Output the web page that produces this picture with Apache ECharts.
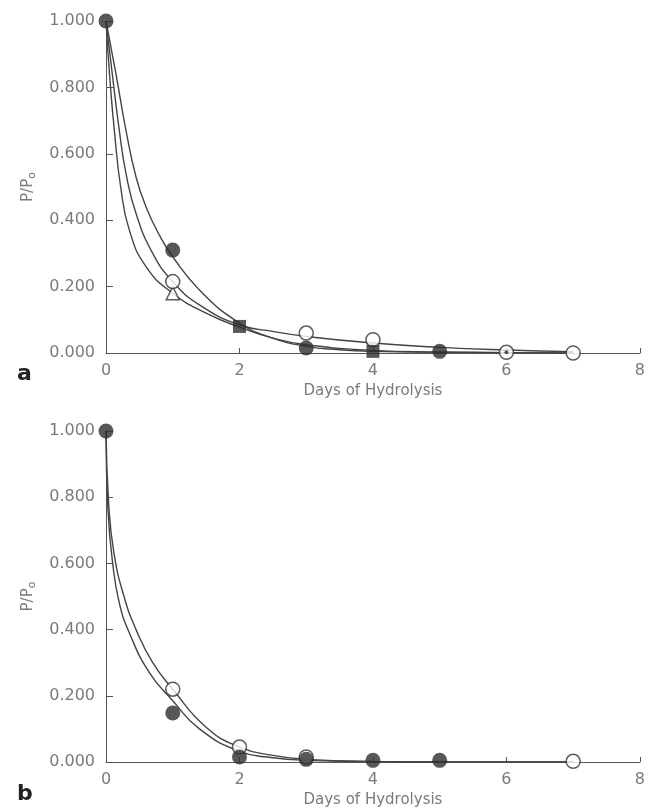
<!DOCTYPE html>
<html>
<head>
<meta charset="utf-8">
<script src="https://cdn.jsdelivr.net/npm/echarts@6/dist/echarts.min.js"></script>
<style>
  html, body { margin: 0; background: #fff; }
  #chart { width: 648px; height: 812px; }
</style>
</head>
<body>
<div id="chart"></div>
<script>
// ---- panel a: measured points [days, P/P0]
const aFilledCircles = [[0, 1.0], [1, 0.31], [3, 0.015], [5, 0.005]];
const aFilledSquares = [[2, 0.08], [4, 0.005]];
const aOpenCircles = [[1, 0.215], [3, 0.06], [4, 0.04], [6, 0.002], [7, 0.0]];
const aOpenTriangles = [[1, 0.18]];
const aCenterDots = [[6, 0.002]];

// panel a: fitted curves
const aCurveFilled = [[0, 1], [0.15, 0.84], [0.3, 0.67], [0.45, 0.53], [0.6, 0.44], [0.8, 0.355],
  [1, 0.29], [1.4, 0.19], [2, 0.09], [2.5, 0.045], [3, 0.02], [3.5, 0.01],
  [4, 0.005], [5, 0.002], [6, 0.001], [7, 0]];
const aCurveOpen = [[0, 1], [0.1, 0.83], [0.2, 0.67], [0.3, 0.54], [0.45, 0.42],
  [0.7, 0.3], [1, 0.215], [1.4, 0.145], [2, 0.085], [2.5, 0.065], [3, 0.05], [4, 0.03],
  [5, 0.017], [6, 0.009], [7, 0.004]];
const aCurveTriangle = [[0, 1], [0.06, 0.82], [0.13, 0.66], [0.22, 0.5], [0.35, 0.37],
  [0.6, 0.26], [1, 0.18], [1.5, 0.12], [2, 0.078], [2.5, 0.045], [3, 0.025],
  [4, 0.008], [5, 0.003], [6, 0.001], [7, 0]];

// ---- panel b
const bFilledCircles = [[0, 1.0], [1, 0.148], [2, 0.015], [3, 0.008], [4, 0.005], [5, 0.005]];
const bOpenCircles = [[1, 0.22], [2, 0.045], [3, 0.015], [7, 0.002]];

const bCurveOpen = [[0, 1], [0.04, 0.78], [0.12, 0.63], [0.27, 0.5], [0.45, 0.4],
  [0.7, 0.3], [1, 0.22], [1.5, 0.105], [2, 0.045], [2.5, 0.02], [3, 0.008], [4, 0.002],
  [5, 0.001], [7, 0]];
const bCurveFilled = [[0, 1], [0.03, 0.76], [0.1, 0.6], [0.2, 0.48], [0.35, 0.39],
  [0.65, 0.27], [1, 0.185], [1.4, 0.1], [2, 0.032], [2.5, 0.013], [3, 0.005], [4, 0.001],
  [5, 0], [7, 0]];

const xTicks = { min: 0, max: 8, interval: 2 };
const yTicks = { min: 0, max: 1, interval: 0.2 };
const xTitle = "Days of Hydrolysis";
const panelLabels = ["a", "b"];

const ink = "#333";
const labelColor = "#7a7a7a";
const font = "DejaVu Sans";

const chart = echarts.init(document.getElementById("chart"), null, { renderer: "canvas" });

function xAxis(gridIndex) {
  return {
    type: "value", gridIndex, min: xTicks.min, max: xTicks.max, interval: xTicks.interval,
    name: xTitle, nameLocation: "middle", nameGap: 31,
    nameTextStyle: { color: labelColor, fontFamily: font, fontSize: 15 },
    axisLine: { onZero: false, lineStyle: { color: "#555", width: 1 } },
    axisTick: { inside: true, length: 5, lineStyle: { color: "#555" } },
    axisLabel: { color: labelColor, fontFamily: font, fontSize: 16, margin: 10 },
    splitLine: { show: false },
  };
}

function yAxis(gridIndex) {
  return {
    type: "value", gridIndex, min: yTicks.min, max: yTicks.max, interval: yTicks.interval,
    name: "P/P{s|o}", nameLocation: "middle", nameRotate: 90, nameGap: 68,
    nameTextStyle: {
      color: labelColor, fontFamily: font, fontSize: 15,
      rich: { s: { fontSize: 11, color: labelColor, fontFamily: font, padding: [8, 0, 0, 0] } },
    },
    axisLine: { onZero: false, lineStyle: { color: "#555", width: 1 } },
    axisTick: { inside: true, length: 7, lineStyle: { color: "#555" } },
    axisLabel: { color: labelColor, fontFamily: font, fontSize: 16, margin: 11,
      formatter: (v) => v.toFixed(3) },
    splitLine: { show: false },
  };
}

function curve(data, i) {
  return {
    type: "line", data, xAxisIndex: i, yAxisIndex: i, showSymbol: false,
    smooth: 0.5, silent: true, z: 2,
    lineStyle: { color: "#444", width: 1.4 },
  };
}

function points(data, i, symbol, size, filled) {
  return {
    type: "scatter", data, xAxisIndex: i, yAxisIndex: i, symbol, symbolSize: size, z: 3,
    itemStyle: filled
      ? { color: "#2e2e2e" }
      : { color: "#fff", borderColor: ink, borderWidth: 1.5 },
  };
}

const option = {
  animation: false,
  backgroundColor: "#fff",
  grid: [
    { left: 106, top: 21, width: 539, height: 332 },
    { left: 106, top: 431, width: 539, height: 331 },
  ],
  xAxis: [xAxis(0), xAxis(1)],
  yAxis: [yAxis(0), yAxis(1)],
  title: [
    { text: panelLabels[0], left: 12, top: 358,
      textStyle: { fontFamily: font, fontSize: 22, fontWeight: "bold", color: "#222" } },
    { text: panelLabels[1], left: 12, top: 778,
      textStyle: { fontFamily: font, fontSize: 22, fontWeight: "bold", color: "#222" } },
  ],
  series: [
    curve(aCurveFilled, 0),
    curve(aCurveOpen, 0),
    curve(aCurveTriangle, 0),
    points(aOpenTriangles, 0, "triangle", 13, false),
    points(aOpenCircles, 0, "circle", 14, false),
    points(aFilledSquares, 0, "rect", 13, true),
    points(aFilledCircles, 0, "circle", 15, true),
    points(aCenterDots, 0, "circle", 4, true),
    curve(bCurveOpen, 1),
    curve(bCurveFilled, 1),
    points(bOpenCircles, 1, "circle", 14, false),
    points(bFilledCircles, 1, "circle", 15, true),
  ],
};

chart.setOption(option);
</script>
</body>
</html>
